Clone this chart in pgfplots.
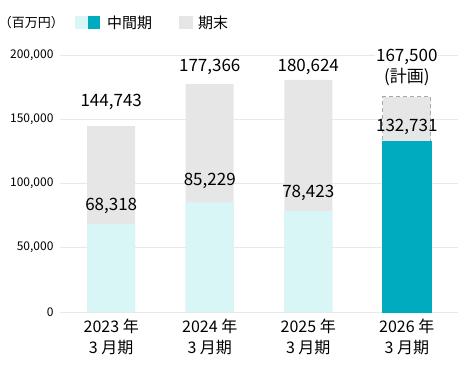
\documentclass[border=0pt]{standalone}
\usepackage{pgfplots}
\pgfplotsset{compat=1.18}
\usepackage{fontspec}
\setmainfont{Noto Sans CJK JP}
\definecolor{lightc}{HTML}{D8F6F6}
\definecolor{tealc}{HTML}{00AABF}
\definecolor{grayc}{HTML}{E6E6E6}
\definecolor{gridc}{HTML}{E8E8E8}
\definecolor{dashc}{HTML}{A8A8A8}
\begin{document}
\begin{tikzpicture}
\useasboundingbox (-60pt,-65pt) rectangle (414pt,312pt);
\begin{axis}[at={(0pt,0pt)}, anchor=south west, scale only axis,
  width=398pt, height=257pt,
  xmin=-0.52, xmax=3.52, ymin=0, ymax=200000,
  ytick={0,50000,100000,150000,200000},
  ymajorgrids, major grid style={gridc, line width=0.8pt},
  xtick={0,1,2,3},
  xticklabels={{2023 年\\3 月期},{2024 年\\3 月期},{2025 年\\3 月期},{2026 年\\3 月期}},
  axis line style={draw=none}, major tick length=0pt,
  scaled y ticks=false,
  /pgf/number format/assume math mode=true,
  yticklabel style={/pgf/number format/fixed, /pgf/number format/1000 sep={,}, font=\fontsize{12}{14}\selectfont, xshift=-3pt},
  xticklabel style={align=center, font=\fontsize{16}{21}\selectfont, yshift=-3pt},
  clip=false,
]
\addplot[ybar, bar width=48pt, bar shift=0pt, fill=grayc, draw=none] coordinates {(0,144743)(1,177366)(2,180624)};
\addplot[ybar, bar width=48pt, bar shift=0pt, fill=grayc, draw=dashc, dash pattern=on 4pt off 3pt, line width=0.7pt] coordinates {(3,167500)};
\addplot[ybar, bar width=48pt, bar shift=0pt, fill=lightc, draw=none] coordinates {(0,68318)(1,85229)(2,78423)};
\addplot[ybar, bar width=48pt, bar shift=0pt, fill=tealc, draw=tealc, line width=1.6pt] coordinates {(3,132731)};
\begin{scope}[every node/.style={font=\fontsize{17}{20}\selectfont, inner sep=1pt}]
\node[fill=white] at (axis cs:0,163400) {144,743};
\node[fill=white] at (axis cs:1,190600) {177,366};
\node[fill=white] at (axis cs:2,190600) {180,624};
\node[fill=white] at (axis cs:3,198400) {167,500};
\node[fill=white] at (axis cs:3,182900) {(計画)};
\node at (axis cs:0,82500) {68,318};
\node at (axis cs:1,101900) {85,229};
\node at (axis cs:2,92600) {78,423};
\node at (axis cs:3,144000) {132,731};
\end{scope}
\end{axis}
% legend
\node[font=\fontsize{13}{15}\selectfont, inner sep=0pt] at (-28.5pt,289.5pt) {（百万円）};
\fill[lightc] (15pt,283pt) rectangle (27.5pt,296pt);
\fill[tealc] (27.5pt,283pt) rectangle (40pt,296pt);
\node[font=\fontsize{15}{17}\selectfont, inner sep=0pt] at (69.5pt,289.5pt) {中間期};
\fill[grayc] (119pt,283pt) rectangle (132.5pt,296pt);
\node[font=\fontsize{15}{17}\selectfont, inner sep=0pt] at (153pt,289.5pt) {期末};
\end{tikzpicture}
\end{document}
